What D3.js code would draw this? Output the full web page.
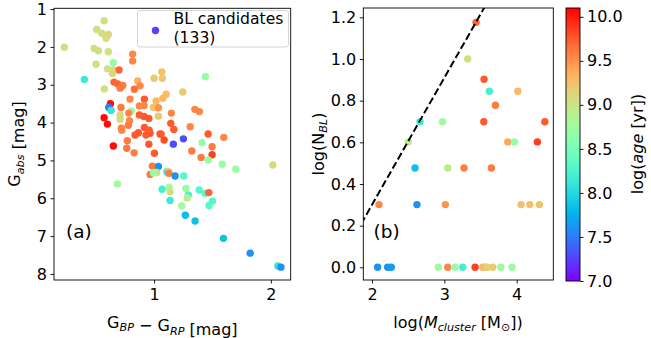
<!DOCTYPE html>
<html><head><meta charset="utf-8">
<script src="https://cdn.jsdelivr.net/npm/d3@7"></script>
<style>body{margin:0;background:#fff}svg{display:block;font-family:"DejaVu Sans",sans-serif}</style>
</head><body><svg id="c" width="651" height="338"></svg>
<script>
// ---------- data ----------
const cmdColor = [0.231,0.572,0.509,0.552,0.608,0.589,0.486,0.523,0.608,0.503,0.651,0.600,0.651,0.700,0.643,0.817,0.817,0.403,0.574,0.657,0.689,0.709,0.732,0.860,0.880,0.831,1.066,1.071,1.000,1.440,1.103,1.075,1.246,0.917,0.794,1.017,0.626,0.612,0.632,0.717,0.806,0.874,0.914,0.994,1.037,0.783,0.874,0.914,0.955,0.709,0.709,1.037,1.349,1.388,1.148,0.572,0.600,0.720,0.789,0.780,0.917,0.957,0.866,1.143,1.169,1.309,1.251,1.463,1.597,1.060,0.723,0.931,0.966,0.837,1.051,0.771,1.086,0.651,0.766,0.829,0.955,1.003,1.165,1.411,1.497,1.497,1.323,1.403,1.463,1.583,1.700,2.017,0.985,1.037,0.966,1.023,0.995,1.109,1.126,1.126,1.180,1.254,0.686,1.069,1.129,1.137,1.137,1.272,1.294,1.283,1.237,1.386,1.437,1.469,1.500,1.471,1.268,1.351,1.594,1.823,2.060,2.086];
const cmdMag = [2.01,1.31,1.54,1.64,1.67,1.77,2.04,2.10,2.13,2.46,2.42,2.58,2.61,2.61,2.70,2.19,2.37,2.86,3.11,2.93,2.98,3.09,3.02,2.90,3.03,3.12,2.66,2.83,2.83,2.79,3.25,3.36,3.19,3.38,3.38,3.43,3.50,3.60,3.68,3.60,3.69,3.56,3.55,3.60,3.61,3.75,3.80,3.84,3.89,3.80,3.91,3.83,3.65,3.71,3.75,3.87,4.04,4.15,3.95,4.07,4.13,4.20,4.27,4.02,4.18,4.11,4.43,4.30,4.39,4.31,4.20,4.33,4.28,4.33,4.30,4.48,4.46,4.62,4.68,4.80,4.57,4.81,4.57,4.53,4.64,4.85,4.75,4.92,4.99,5.10,5.23,5.12,5.15,5.16,5.37,5.32,5.33,5.30,5.30,5.34,5.41,5.41,5.62,5.76,5.71,5.83,6.06,5.74,5.91,5.99,6.20,5.78,5.87,5.85,6.08,6.19,6.45,6.60,7.06,7.45,7.79,7.82];
const cmdAge = [9.05,9.05,9.05,9.05,9.1,9.05,9.05,9.05,9.05,9.05,8.7,9.05,9.05,9.7,9.1,9.55,9.55,8.15,9.05,9.7,9.7,9.6,9.6,9.35,9.55,9.65,9.25,9.2,9.2,8.7,9.3,9.3,9.2,9.75,9.55,9.3,10.05,7.5,8.1,9.6,8.75,9.55,9.55,9.25,9.5,9.55,9.75,9.75,9.75,9.1,9.1,9.2,9.55,9.55,9.55,10.05,10.05,9.6,9.55,9.6,9.75,9.75,9.75,9.75,9.75,9.55,7.3,9.75,9.55,9.75,9.55,9.75,9.75,9.75,9.75,9.6,9.8,10.05,9.6,9.6,9.75,9.75,7.3,8.7,9.6,9.85,9.6,9.6,8.7,8.7,8.7,9.1,9.6,7.6,9.6,9.05,8.7,8.15,9.05,9.6,7.6,8.3,8.75,8.2,8.75,9.05,8.15,8.7,8.25,8.9,8.75,8.3,8.3,9.7,8.3,8.3,7.85,7.85,7.85,7.6,8.1,7.6];

const logMass = [3.438,3.323,3.549,3.623,4.015,3.706,2.664,2.973,3.545,4.389,2.502,3.877,3.968,4.286,2.595,3.047,3.272,3.650,2.097,2.622,3.014,4.061,4.181,4.314,2.078,2.217,2.267,2.917,3.047,3.148,3.254,3.425,3.531,3.567,3.595,3.669,3.780,3.936];
const logNbl = [1.176,1.000,0.903,0.845,0.845,0.778,0.699,0.699,0.699,0.699,0.602,0.602,0.602,0.602,0.477,0.477,0.477,0.477,0.301,0.301,0.301,0.301,0.301,0.301,0,0,0,0,0,0,0,0,0,0,0,0,0,0];
const clusterAge = [9.7,9.05,9.75,8.2,9.3,9.6,8.15,8.75,9.75,9.75,8.95,9.4,8.65,9.85,7.85,8.95,9.6,9.6,9.55,7.6,9.5,9.25,9.25,9.25,7.6,7.6,7.65,8.75,9.55,8.7,8.2,9.85,9.3,9.3,9.15,9.2,8.75,8.75];

const dashX = [1.85, 3.6];
const dashY = [0.2085, 1.276];

const xTicksA = [1, 2], yTicksA = [1,2,3,4,5,6,7,8];
const xTicksB = [2, 3, 4], yTicksB = [0,0.2,0.4,0.6,0.8,1.0,1.2];
const cbTicks = [7.0,7.5,8.0,8.5,9.0,9.5,10.0];
const legendLabel = ["BL candidates", "(133)"];
const legendAge = 7.25;

// ---------- helpers ----------
function rainbow(t){
  t = Math.max(0, Math.min(1, t));
  const r = Math.min(1, Math.abs(2*t - 0.5));
  const g = Math.sin(t*Math.PI);
  const b = Math.cos(t*Math.PI/2);
  return d3.rgb(r*255, g*255, b*255).toString();
}
const ageNorm = d3.scaleLinear().domain([7.0, 10.1]).range([0,1]);
const ageColor = a => rainbow(ageNorm(a));

const svg = d3.select("#c");
const FS = 16;
const R = 3.7;

// ---------- panel a ----------
const xA = d3.scaleLinear().domain([0.143, 2.17]).range([54, 290.7]);
const yA = d3.scaleLinear().domain([0.98, 8.16]).range([8.3, 280]);

const gA = svg.append("g");
gA.append("defs").append("clipPath").attr("id","clipA").append("rect")
  .attr("x",54).attr("y",8.3).attr("width",236.7).attr("height",271.7);
gA.append("g").attr("clip-path","url(#clipA)").selectAll("circle")
  .data(d3.range(cmdColor.length)).join("circle")
  .attr("cx", i => xA(cmdColor[i])).attr("cy", i => yA(cmdMag[i]))
  .attr("r", R).attr("fill", i => ageColor(cmdAge[i]));

gA.append("g").attr("transform","translate(0,280)")
  .call(d3.axisBottom(xA).tickValues(xTicksA).tickFormat(d3.format("d")).tickSizeOuter(0).tickSize(3.5).tickPadding(5.5));
gA.append("g").attr("transform","translate(54,0)")
  .call(d3.axisLeft(yA).tickValues(yTicksA).tickFormat(d3.format("d")).tickSizeOuter(0).tickSize(3.5).tickPadding(3.5));
gA.append("rect").attr("x",54).attr("y",8.3).attr("width",236.7).attr("height",271.7)
  .attr("fill","none").attr("stroke","#000").attr("stroke-width",0.9);

// legend
const lg = gA.append("g");
lg.append("rect").attr("x",137.5).attr("y",10.5).attr("width",151).attr("height",36.5)
  .attr("rx",2.5).attr("fill","#fff").attr("fill-opacity",0.8).attr("stroke","#d0d0d0").attr("stroke-width",0.9);
lg.append("circle").attr("cx",155.5).attr("cy",30.5).attr("r",R).attr("fill",ageColor(legendAge));
lg.append("text").attr("x",173.5).attr("y",24.3).attr("font-size",15.6).text(legendLabel[0]);
lg.append("text").attr("x",173.5).attr("y",42.6).attr("font-size",15.6).text(legendLabel[1]);

gA.append("text").attr("x",66).attr("y",238).attr("font-size",18.5).text("(a)");

// ---------- panel b ----------
const xB = d3.scaleLinear().domain([1.88, 4.506]).range([363.3, 553.3]);
const yB = d3.scaleLinear().domain([-0.061, 1.245]).range([280, 8]);
const gB = svg.append("g");
gB.append("defs").append("clipPath").attr("id","clipB").append("rect")
  .attr("x",363.3).attr("y",8).attr("width",190).attr("height",272);
gB.append("g").attr("clip-path","url(#clipB)").selectAll("circle")
  .data(d3.range(logMass.length)).join("circle")
  .attr("cx", i => xB(logMass[i])).attr("cy", i => yB(logNbl[i]))
  .attr("r", R).attr("fill", i => ageColor(clusterAge[i]));
gB.append("g").attr("clip-path","url(#clipB)").append("path")
  .datum(d3.range(dashX.length))
  .attr("d", d3.line().x(i => xB(dashX[i])).y(i => yB(dashY[i])))
  .attr("stroke","#000").attr("stroke-width",2).attr("stroke-dasharray","7.4,3.2").attr("fill","none");

gB.append("g").attr("transform","translate(0,280)")
  .call(d3.axisBottom(xB).tickValues(xTicksB).tickFormat(d3.format("d")).tickSizeOuter(0).tickSize(3.5).tickPadding(5.5));
gB.append("g").attr("transform","translate(363.3,0)")
  .call(d3.axisLeft(yB).tickValues(yTicksB).tickFormat(d3.format(".1f")).tickSizeOuter(0).tickSize(3.5).tickPadding(3.5));
gB.append("rect").attr("x",363.3).attr("y",8).attr("width",190).attr("height",272)
  .attr("fill","none").attr("stroke","#000").attr("stroke-width",0.9);
gB.append("text").attr("x",373.5).attr("y",238).attr("font-size",18.5).text("(b)");

// ---------- colorbar ----------
const cbY = d3.scaleLinear().domain([7.0, 10.1]).range([281, 8]);
const grad = svg.append("defs").append("linearGradient").attr("id","cbg")
  .attr("x1",0).attr("y1",1).attr("x2",0).attr("y2",0);
d3.range(0, 1.0001, 0.02).forEach(t => grad.append("stop").attr("offset",t).attr("stop-color",rainbow(t)));
svg.append("rect").attr("x",566).attr("y",8).attr("width",14).attr("height",273)
  .attr("fill","url(#cbg)").attr("stroke","#000").attr("stroke-width",0.9);
svg.append("g").attr("transform","translate(580,0)")
  .call(d3.axisRight(cbY).tickValues(cbTicks).tickFormat(d3.format(".1f")).tickSizeOuter(0).tickSize(3.5).tickPadding(3.5));

svg.selectAll(".tick text").attr("font-size",FS).attr("font-family","DejaVu Sans").attr("fill","#000");
svg.selectAll(".tick line").attr("stroke","#000").attr("stroke-width",0.9);
svg.selectAll(".domain").remove();

// ---------- axis labels ----------
function sub(t, main, s, italic){
  t.append("tspan").text(main);
  t.append("tspan").attr("font-size",FS*0.7).attr("dy",3.5).attr("font-style",italic?"italic":null).text(s);
  t.append("tspan").attr("dy",-3.5).text("");
}
let t = svg.append("text").attr("x",172.3).attr("y",327.5).attr("text-anchor","middle").attr("font-size",FS);
sub(t,"G","BP",true); t.append("tspan").text(" \u2212 G"); sub(t,"","RP",true); t.append("tspan").text(" [mag]");

t = svg.append("text").attr("transform","translate(20,144) rotate(-90)").attr("text-anchor","middle").attr("font-size",FS);
sub(t,"G","abs",true); t.append("tspan").text(" [mag]");

t = svg.append("text").attr("x",458).attr("y",327.5).attr("text-anchor","middle").attr("font-size",FS);
t.append("tspan").text("log(");
t.append("tspan").attr("font-style","italic").text("M");
t.append("tspan").attr("font-size",FS*0.7).attr("dy",3.5).attr("font-style","italic").text("cluster");
t.append("tspan").attr("dy",-3.5).text(" [M");
t.append("tspan").attr("font-size",FS*0.7).attr("dy",3.5).text("\u2299");
t.append("tspan").attr("dy",-3.5).text("])");

t = svg.append("text").attr("transform","translate(323.5,144) rotate(-90)").attr("text-anchor","middle").attr("font-size",FS);
t.append("tspan").text("log(N");
t.append("tspan").attr("font-size",FS*0.7).attr("dy",3.5).attr("font-style","italic").text("BL");
t.append("tspan").attr("dy",-3.5).text(")");

t = svg.append("text").attr("transform","translate(643,144) rotate(-90)").attr("text-anchor","middle").attr("font-size",FS);
t.append("tspan").text("log(");
t.append("tspan").attr("font-style","italic").text("age");
t.append("tspan").text(" [yr])");
</script></body></html>
